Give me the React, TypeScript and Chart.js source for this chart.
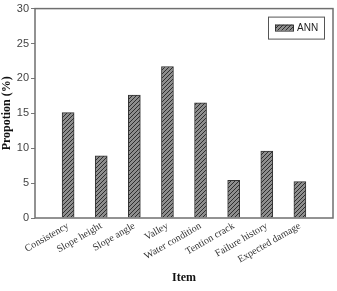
import React, { useEffect, useRef } from 'react';
import { Chart, registerables } from 'chart.js';

Chart.register(...registerables);

const categories = ['Consistency', 'Slope height', 'Slope angle', 'Valley', 'Water condition', 'Tention crack', 'Failure history', 'Expected damage'];
const annValues = [15.1, 8.9, 17.6, 21.7, 16.5, 5.4, 9.6, 5.2];
const seriesName = 'ANN';
const yTicks = { min: 0, max: 30, step: 5 };

function makePattern(): CanvasPattern | string {
  const c = document.createElement('canvas');
  c.width = 4;
  c.height = 4;
  const g = c.getContext('2d');
  if (!g) return '#888';
  g.fillStyle = '#8e8e8e';
  g.fillRect(0, 0, 4, 4);
  g.strokeStyle = '#2e2e2e';
  g.lineWidth = 1;
  g.beginPath();
  g.moveTo(0, 4); g.lineTo(4, 0);
  g.moveTo(-1, 1); g.lineTo(1, -1);
  g.moveTo(3, 5); g.lineTo(5, 3);
  g.stroke();
  const ctx = document.createElement('canvas').getContext('2d');
  return ctx ? (ctx.createPattern(c, 'repeat') as CanvasPattern) : '#888';
}

export default function App() {
  const ref = useRef<HTMLCanvasElement>(null);
  useEffect(() => {
    document.body.style.margin = '0';
    const canvas = ref.current;
    if (!canvas) return;
    const pattern = makePattern();
    const labels = ['', ...categories, ''];
    const data = [null, ...annValues, null];

    const framePlugin = {
      id: 'frameLegend',
      afterDraw(chart: any) {
        const { ctx, chartArea: a } = chart;
        ctx.save();
        ctx.strokeStyle = '#6f6f6f';
        ctx.lineWidth = 1.5;
        ctx.strokeRect(a.left, a.top, a.right - a.left, a.bottom - a.top);
        // legend box
        const bx = a.right - 65, by = a.top + 8, bw = 56, bh = 22;
        ctx.lineWidth = 1;
        ctx.strokeStyle = '#555';
        ctx.strokeRect(bx + 0.5, by + 0.5, bw, bh);
        ctx.fillStyle = pattern;
        ctx.fillRect(bx + 7, by + 8, 18, 6);
        ctx.strokeStyle = '#333';
        ctx.strokeRect(bx + 7.5, by + 8.5, 18, 6);
        ctx.fillStyle = '#222';
        ctx.font = '10px "Liberation Sans"';
        ctx.textBaseline = 'middle';
        ctx.textAlign = 'left';
        ctx.fillText(seriesName, bx + 29, by + 12);
        ctx.restore();
      },
    };

    const chart = new Chart(canvas, {
      type: 'bar',
      data: {
        labels,
        datasets: [
          {
            label: seriesName,
            data,
            backgroundColor: pattern as any,
            borderColor: '#333',
            borderWidth: 1,
            barThickness: 12,
          },
        ],
      },
      options: {
        animation: false,
        responsive: false,
        layout: { padding: { top: 5, right: 4, left: 0, bottom: 0 } },
        plugins: { legend: { display: false }, tooltip: { enabled: false } },
        scales: {
          x: {
            offset: false,
            grid: { display: false },
            border: { display: false },
            ticks: {
              autoSkip: false,
              maxRotation: 30,
              minRotation: 30,
              padding: -6,
              color: '#333',
              font: { family: '"Liberation Serif"', size: 10 },
            },
            title: {
              display: true,
              text: 'Item',
              color: '#111',
              font: { family: '"Liberation Serif"', size: 12, weight: 'bold' },
              padding: { top: 0, bottom: 6 },
            },
            afterFit: (s: any) => { s.height = 73; },
          },
          y: {
            min: yTicks.min,
            max: yTicks.max,
            grid: { display: true, drawOnChartArea: false, drawTicks: true, tickLength: 4, color: '#777' },
            border: { display: false },
            ticks: {
              stepSize: yTicks.step,
              padding: 2,
              color: '#444',
              font: { family: '"Liberation Sans"', size: 11 },
            },
            title: {
              display: true,
              text: 'Propotion (%)',
              color: '#111',
              font: { family: '"Liberation Serif"', size: 12, weight: 'bold' },
              padding: { top: 0, bottom: 0 },
            },
            afterFit: (s: any) => { s.width = 35; },
          },
        },
      },
      plugins: [framePlugin],
    });
    return () => chart.destroy();
  }, []);
  return (
    <div style={{ width: 337, height: 291 }}>
      <canvas ref={ref} width={337} height={291} />
    </div>
  );
}
